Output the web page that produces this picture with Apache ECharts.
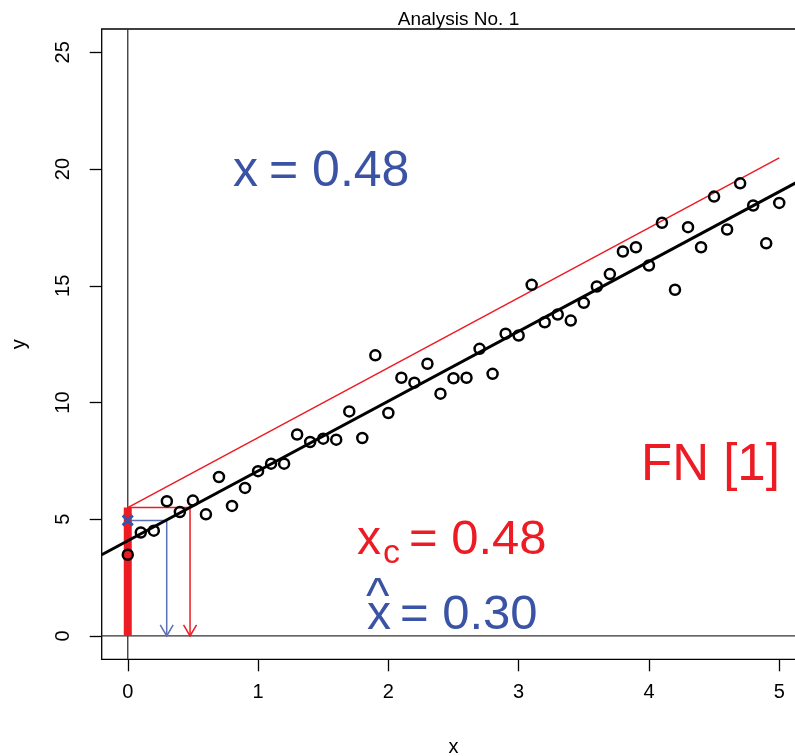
<!DOCTYPE html>
<html><head><meta charset="utf-8">
<script src="https://cdn.jsdelivr.net/npm/echarts@6/dist/echarts.min.js"></script>
<style>html,body{margin:0;padding:0;background:#fff}#c{width:795px;height:756px}</style>
</head><body><div id="c"></div>
<script>
// ---- data ----
const xValues = [0,0.1,0.2,0.3,0.4,0.5,0.6,0.7,0.8,0.9,1.0,1.1,1.2,1.3,1.4,1.5,1.6,1.7,1.8,1.9,2.0,2.1,2.2,2.3,2.4,2.5,2.6,2.7,2.8,2.9,3.0,3.1,3.2,3.3,3.4,3.5,3.6,3.7,3.8,3.9,4.0,4.1,4.2,4.3,4.4,4.5,4.6,4.7,4.8,4.9,5.0];
const yValues = [3.48,4.43,4.51,5.77,5.31,5.80,5.21,6.81,5.57,6.34,7.06,7.38,7.38,8.63,8.31,8.45,8.41,9.62,8.48,12.02,9.55,11.06,10.85,11.66,10.38,11.04,11.06,12.30,11.23,12.95,12.87,15.04,13.44,13.77,13.51,14.27,14.97,15.50,16.47,16.65,15.87,17.70,14.83,17.51,16.65,18.82,17.41,19.39,18.44,16.82,18.55];
const xTicks = [0,1,2,3,4,5];
const yTicks = [0,5,10,15,20,25];
const fitLine = [[-0.2,3.48],[5.2,19.63]];
const limitLine = [[0,5.50],[5,20.48]];
const criticalPath = [[0,5.50],[0.478,5.50],[0.478,0]];
const estimatePath = [[0,4.95],[0.299,4.95],[0.299,0]];
const arrowTips = [[0.299,0,0],[0.478,0,1]];
const signalBar = [[0,0],[0,5.50]];
const estimateMark = [[0,4.95]];
const vRef = [[0,-1],[0,26]];
const hRef = [[-0.2,0],[5.2,0]];

const RED = '#ed1c24', BLUE = '#3b53a4', BLUE_L = '#5b6fb5';
const FONT = 'Liberation Sans, Arial, sans-serif';

const chart = echarts.init(document.getElementById('c'), null, {renderer:'canvas'});
const points = xValues.map((x,i)=>[x,yValues[i]]);
const lineS = (data, color, width, z) => ({type:'line', data, showSymbol:false, symbol:'none', silent:true, z,
  lineStyle:{color, width}, clip:false});

chart.setOption({
  animation:false,
  backgroundColor:'#fff',
  title:{text:'Analysis No. 1', left:453.5, top:5, textAlign:'center',
    textStyle:{fontFamily:FONT, fontSize:19, fontWeight:'normal', color:'#000'}},
  grid:{left:101.7, top:29, width:703.6, height:630.3, show:true, borderColor:'#000', borderWidth:1.3,
    backgroundColor:'transparent', outerBoundsMode:'none', containLabel:false},
  xAxis:{type:'value', min:-0.2, max:5.2, name:'x', nameLocation:'middle', nameGap:78,
    nameTextStyle:{fontFamily:FONT, fontSize:20, color:'#000'},
    axisLine:{show:false, onZero:false}, splitLine:{show:false},
    axisTick:{show:true, length:12, lineStyle:{color:'#000', width:1.3}, customValues:xTicks},
    axisLabel:{fontFamily:FONT, fontSize:20, color:'#000', margin:23, customValues:xTicks}},
  yAxis:{type:'value', min:-1, max:26, name:'y', nameLocation:'middle', nameGap:72, nameRotate:90,
    nameTextStyle:{fontFamily:FONT, fontSize:20, color:'#000'},
    axisLine:{show:false, onZero:false}, splitLine:{show:false},
    axisTick:{show:true, length:12, lineStyle:{color:'#000', width:1.3}, customValues:yTicks},
    axisLabel:{fontFamily:FONT, fontSize:20, color:'#000', margin:28, rotate:90, customValues:yTicks}},
  series:[
    lineS(vRef, '#333', 1.3, 1),
    lineS(hRef, '#333', 1.3, 1),
    lineS(limitLine, RED, 1.5, 2),
    lineS(criticalPath, RED, 1.5, 2),
    lineS(estimatePath, BLUE_L, 1.5, 2),
    {type:'custom', data:arrowTips, encode:{x:0,y:1}, silent:true, z:3, clip:false,
      renderItem:(params, api)=>{
        const p = api.coord([api.value(0), api.value(1)]);
        const c = api.value(2) === 0 ? BLUE_L : RED;
        return {type:'polyline', shape:{points:[[p[0]-6.5,p[1]-11],[p[0],p[1]],[p[0]+6.5,p[1]-11]]},
          style:{stroke:c, fill:null, lineWidth:1.5}};
      }},
    lineS(signalBar, RED, 8, 4),
    lineS(fitLine, '#000', 3, 5),
    {type:'scatter', data:points, symbol:'circle', symbolSize:10, silent:true, z:6,
      itemStyle:{color:'rgba(0,0,0,0)', borderColor:'#000', borderWidth:2.5, opacity:1}},
    {type:'custom', data:estimateMark, encode:{x:0,y:1}, silent:true, z:7, clip:false,
      renderItem:(params, api)=>{
        const p = api.coord([api.value(0), api.value(1)]);
        const s = 5;
        return {type:'group', children:[
          {type:'line', shape:{x1:p[0]-s,y1:p[1]-s,x2:p[0]+s,y2:p[1]+s}, style:{stroke:BLUE, lineWidth:3}},
          {type:'line', shape:{x1:p[0]-s,y1:p[1]+s,x2:p[0]+s,y2:p[1]-s}, style:{stroke:BLUE, lineWidth:3}}
        ]};
      }}
  ],
  graphic:[
    {type:'text', left:233, top:169-22, style:{text:'x', fill:BLUE, font:'50px '+FONT}},
    {type:'text', left:269, top:169-22, style:{text:'= 0.48', fill:BLUE, font:'50px '+FONT}},
    {type:'text', left:641, top:465-25, style:{text:'FN [1]', fill:RED, font:'51px '+FONT}},
    {type:'text', x:357, y:541, style:{text:'x', fill:RED, font:'48px '+FONT, verticalAlign:'middle'}},
    {type:'text', x:383, y:554, style:{text:'c', fill:RED, font:'34px '+FONT, verticalAlign:'middle'}},
    {type:'text', x:409, y:540, style:{text:'= 0.48', fill:RED, font:'49px '+FONT, verticalAlign:'middle'}},
    {type:'text', x:366, y:598, style:{text:'^', fill:BLUE, font:'50px '+FONT, verticalAlign:'middle'}},
    {type:'text', x:367, y:615.5, style:{text:'x', fill:BLUE, font:'48px '+FONT, verticalAlign:'middle'}},
    {type:'text', x:400, y:615.5, style:{text:'= 0.30', fill:BLUE, font:'49px '+FONT, verticalAlign:'middle'}}
  ]
});
</script></body></html>
